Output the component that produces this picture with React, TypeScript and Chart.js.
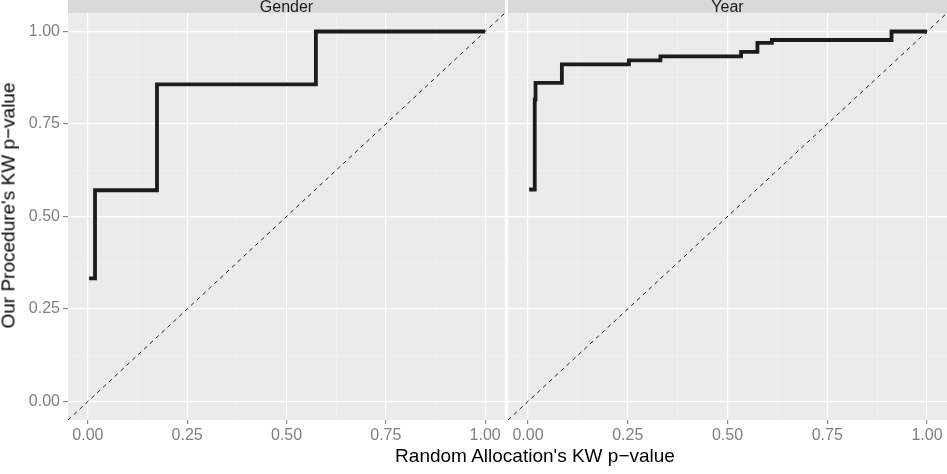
import { useEffect, useRef } from 'react';
import { Chart, registerables } from 'chart.js';

Chart.register(...registerables);

// ---- data ----
const panelLabels = ['Gender', 'Year'];
const genderX = [0.003, 0.018, 0.174, 0.574, 1.0];
const genderY = [0.333, 0.571, 0.857, 1.0, 1.0];
const yearX = [0.003, 0.017, 0.019, 0.085, 0.253, 0.332, 0.534, 0.575, 0.611, 0.911, 1.0];
const yearY = [0.573, 0.816, 0.861, 0.911, 0.922, 0.933, 0.945, 0.969, 0.977, 1.0, 1.0];
const majorTicks = [0, 0.25, 0.5, 0.75, 1];
const tickLabels = ['0.00', '0.25', '0.50', '0.75', '1.00'];
const minorTicks = [0.125, 0.375, 0.625, 0.875];
const axisRange = [-0.05, 1.05];
const xTitle = "Random Allocation's KW p\u2212value";
const yTitle = "Our Procedure's KW p\u2212value";

const FONT = '"Liberation Sans", Arial, Helvetica, sans-serif';

function isMajor(v: number) {
  return majorTicks.some((m) => Math.abs(m - v) < 1e-9);
}

function setTicks(scale: any) {
  const vals = [...majorTicks, ...minorTicks].sort((a, b) => a - b);
  scale.ticks = vals.map((v) => ({ value: v }));
}

function labelFor(v: number) {
  const i = majorTicks.findIndex((m) => Math.abs(m - v) < 1e-9);
  return i >= 0 ? tickLabels[i] : '';
}

function panelPlugin(label: string) {
  return {
    id: 'panelBg',
    beforeDraw(chart: any) {
      const { ctx, chartArea: a } = chart;
      ctx.save();
      ctx.fillStyle = '#EBEBEB';
      ctx.fillRect(a.left, a.top, a.right - a.left, a.bottom - a.top);
      ctx.fillStyle = '#D9D9D9';
      ctx.fillRect(a.left, 0, a.right - a.left, a.top);
      ctx.fillStyle = '#1A1A1A';
      ctx.font = `16px ${FONT}`;
      ctx.textAlign = 'center';
      ctx.textBaseline = 'alphabetic';
      ctx.fillText(label, (a.left + a.right) / 2, 12);
      ctx.restore();
    },
  };
}

function makeConfig(label: string, xs: number[], ys: number[], showY: boolean): any {
  const gridColor = (c: any) => (c.tick && isMajor(c.tick.value) ? '#FFFFFF' : '#F4F4F4');
  const gridWidth = (c: any) => (c.tick && isMajor(c.tick.value) ? 1.2 : 0.6);
  const tickColor = (c: any) => (c.tick && isMajor(c.tick.value) ? '#7F7F7F' : 'rgba(0,0,0,0)');
  return {
    type: 'line',
    data: {
      datasets: [
        {
          data: axisRange.map((v) => ({ x: v, y: v })),
          borderColor: '#222222',
          borderWidth: 1,
          borderDash: [4, 4],
          pointRadius: 0,
          fill: false,
        },
        {
          data: xs.map((x, i) => ({ x, y: ys[i] })),
          borderColor: '#1C1C1C',
          borderWidth: 3.8,
          stepped: 'before',
          pointRadius: 0,
          fill: false,
          borderCapStyle: 'butt',
          borderJoinStyle: 'miter',
        },
      ],
    },
    options: {
      animation: false,
      responsive: false,
      events: [],
      layout: { padding: { top: 13, left: 0, right: 0, bottom: 0 } },
      plugins: { legend: { display: false }, tooltip: { enabled: false }, title: { display: false } },
      scales: {
        x: {
          type: 'linear',
          min: axisRange[0],
          max: axisRange[1],
          afterBuildTicks: setTicks,
          afterFit: (s: any) => {
            s.height = 54;
          },
          border: { display: false },
          grid: { color: gridColor, lineWidth: gridWidth, tickColor, tickLength: 4, tickWidth: 1.1 },
          ticks: {
            callback: (v: number) => labelFor(v),
            autoSkip: false,
            maxRotation: 0,
            padding: 2,
            color: '#7F7F7F',
            font: { family: FONT, size: 16 },
          },
        },
        y: {
          type: 'linear',
          min: axisRange[0],
          max: axisRange[1],
          afterBuildTicks: setTicks,
          afterFit: (s: any) => {
            s.width = showY ? 68 : 0;
          },
          border: { display: false },
          grid: {
            color: gridColor,
            lineWidth: gridWidth,
            tickColor,
            tickLength: showY ? 5 : 0,
            drawTicks: showY,
            tickWidth: 1.1,
          },
          ticks: {
            display: showY,
            callback: (v: number) => labelFor(v),
            autoSkip: false,
            padding: 3,
            color: '#7F7F7F',
            font: { family: FONT, size: 16 },
          },
        },
      },
    },
    plugins: [panelPlugin(label)],
  };
}

export default function App() {
  const leftRef = useRef<HTMLCanvasElement>(null);
  const rightRef = useRef<HTMLCanvasElement>(null);

  useEffect(() => {
    const c1 = new Chart(leftRef.current!, makeConfig(panelLabels[0], genderX, genderY, true));
    const c2 = new Chart(rightRef.current!, makeConfig(panelLabels[1], yearX, yearY, false));
    return () => {
      c1.destroy();
      c2.destroy();
    };
  }, []);

  const titleStyle: any = {
    position: 'absolute',
    fontFamily: FONT,
    fontSize: '19px',
    lineHeight: '19px',
    height: '19px',
    width: '500px',
    textAlign: 'center',
    whiteSpace: 'nowrap',
    color: '#000',
  };

  return (
    <div style={{ position: 'absolute', left: 0, top: 0, width: 947, height: 474, background: '#fff', overflow: 'hidden' }}>
      <canvas ref={leftRef} width={505} height={474} style={{ position: 'absolute', left: 0, top: 0 }} />
      <canvas ref={rightRef} width={439} height={474} style={{ position: 'absolute', left: 508, top: 0 }} />
      <div style={{ ...titleStyle, left: 535 - 250, top: 446 }}>{xTitle}</div>
      <div style={{ ...titleStyle, left: 8 - 250, top: 205.5 - 9.5, transform: 'rotate(-90deg)' }}>{yTitle}</div>
    </div>
  );
}
